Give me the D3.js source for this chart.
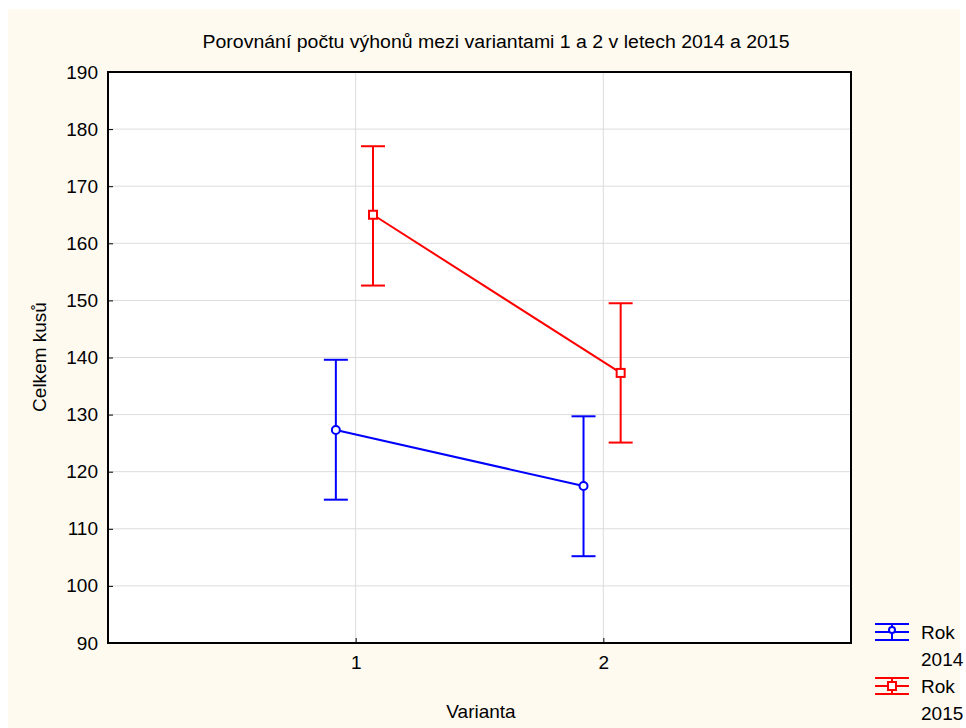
<!DOCTYPE html>
<html>
<head>
<meta charset="utf-8">
<script src="https://cdn.jsdelivr.net/npm/d3@7/dist/d3.min.js"></script>
<style>
  html, body { margin: 0; padding: 0; background: #fff; }
  svg text { font-family: "Liberation Sans", Arial, sans-serif; fill: #000; }
</style>
</head>
<body>
<svg id="chart" width="966" height="728"></svg>
<script>
// data
var variants = [1, 2];
var years = ['2014', '2015'];
var colors = ['#0000ff', '#ff0000'];
var means2014 = [127.3, 117.5];
var low2014 = [115.1, 105.2];
var high2014 = [139.6, 129.7];
var means2015 = [165.0, 137.3];
var low2015 = [152.6, 125.1];
var high2015 = [177.0, 149.5];
var yTicks = [90, 100, 110, 120, 130, 140, 150, 160, 170, 180, 190];

var series = [
  { year: years[0], color: colors[0], shape: 'circle', offset: -0.08, mean: means2014, lo: low2014, hi: high2014 },
  { year: years[1], color: colors[1], shape: 'square', offset: 0.07, mean: means2015, lo: low2015, hi: high2015 }
];

var svg = d3.select('#chart');
var L = 108, R = 851, T = 72, B = 643;

svg.append('rect').attr('x', 8).attr('y', 9).attr('width', 952).attr('height', 719).attr('fill', '#fefaf0');
svg.append('rect').attr('x', L).attr('y', T).attr('width', R - L).attr('height', B - T).attr('fill', '#fff');

var x = d3.scaleLinear().domain([0, 3]).range([L, R]);
var y = d3.scaleLinear().domain([90, 190]).range([B, T]);

// grid
var grid = svg.append('g');
grid.selectAll('line.h').data(yTicks.slice(1, -1)).enter().append('line')
  .attr('x1', L).attr('x2', R).attr('y1', function(d){ return y(d); }).attr('y2', function(d){ return y(d); })
  .attr('stroke', '#dcdcdc').attr('stroke-width', 1);
grid.selectAll('line.v').data(variants).enter().append('line')
  .attr('x1', function(d){ return x(d); }).attr('x2', function(d){ return x(d); }).attr('y1', T).attr('y2', B)
  .attr('stroke', '#dcdcdc').attr('stroke-width', 1);

// axes
var yAxis = svg.append('g').attr('transform', 'translate(' + L + ',0)')
  .call(d3.axisLeft(y).tickValues(yTicks).tickSize(-5).tickPadding(10));
var xAxis = svg.append('g').attr('transform', 'translate(0,' + B + ')')
  .call(d3.axisBottom(x).tickValues(variants).tickFormat(d3.format('d')).tickSize(-5).tickPadding(13));
[yAxis, xAxis].forEach(function(a){
  a.select('.domain').remove();
  a.selectAll('line').attr('stroke', '#000');
  a.selectAll('text').attr('font-size', 19).attr('fill', '#000');
});
svg.append('rect').attr('x', L).attr('y', T).attr('width', R - L).attr('height', B - T)
  .attr('fill', 'none').attr('stroke', '#000').attr('stroke-width', 2);

// series
series.forEach(function(s){
  var g = svg.append('g');
  var pts = variants.map(function(v, i){ return { x: x(v + s.offset), m: y(s.mean[i]), lo: y(s.lo[i]), hi: y(s.hi[i]) }; });
  g.append('path').attr('d', d3.line().x(function(d){ return d.x; }).y(function(d){ return d.m; })(pts))
    .attr('fill', 'none').attr('stroke', s.color).attr('stroke-width', 2);
  pts.forEach(function(p){
    g.append('line').attr('x1', p.x).attr('x2', p.x).attr('y1', p.lo).attr('y2', p.hi).attr('stroke', s.color).attr('stroke-width', 2);
    [p.lo, p.hi].forEach(function(yy){
      g.append('line').attr('x1', p.x - 12).attr('x2', p.x + 12).attr('y1', yy).attr('y2', yy).attr('stroke', s.color).attr('stroke-width', 2);
    });
    if (s.shape === 'circle') {
      g.append('circle').attr('cx', p.x).attr('cy', p.m).attr('r', 4).attr('fill', '#fff').attr('stroke', s.color).attr('stroke-width', 2);
    } else {
      g.append('rect').attr('x', p.x - 4).attr('y', p.m - 4).attr('width', 8).attr('height', 8).attr('fill', '#fff').attr('stroke', s.color).attr('stroke-width', 2);
    }
  });
});

// legend
series.forEach(function(s, i){
  var cx = 892, cy = 632 + i * 54;
  var g = svg.append('g');
  [-8, 0, 8].forEach(function(dy){
    g.append('line').attr('x1', cx - 17).attr('x2', cx + 17).attr('y1', cy + dy).attr('y2', cy + dy).attr('stroke', s.color).attr('stroke-width', 2);
  });
  g.append('line').attr('x1', cx).attr('x2', cx).attr('y1', cy - 8).attr('y2', cy + 8).attr('stroke', s.color).attr('stroke-width', 2);
  if (s.shape === 'circle') {
    g.append('circle').attr('cx', cx).attr('cy', cy - 2).attr('r', 3).attr('fill', '#fff').attr('stroke', s.color).attr('stroke-width', 2);
  } else {
    g.append('rect').attr('x', cx - 4).attr('y', cy - 4).attr('width', 8).attr('height', 8).attr('fill', '#fff').attr('stroke', s.color).attr('stroke-width', 2);
  }
  g.append('text').attr('x', 921).attr('y', cy + 7).attr('font-size', 19).text('Rok');
  g.append('text').attr('x', 921).attr('y', cy + 34).attr('font-size', 19).text(s.year);
});

// titles
svg.append('text').attr('x', 496).attr('y', 48).attr('text-anchor', 'middle').attr('font-size', 18)
  .attr('textLength', 587).attr('lengthAdjust', 'spacingAndGlyphs')
  .text('Porovnání počtu výhonů mezi variantami 1 a 2 v letech 2014 a 2015');
svg.append('text').attr('x', 481).attr('y', 718).attr('text-anchor', 'middle').attr('font-size', 19).text('Varianta');
svg.append('text').attr('transform', 'translate(46,357) rotate(-90)').attr('text-anchor', 'middle').attr('font-size', 19).text('Celkem kusů');
</script>
</body>
</html>
